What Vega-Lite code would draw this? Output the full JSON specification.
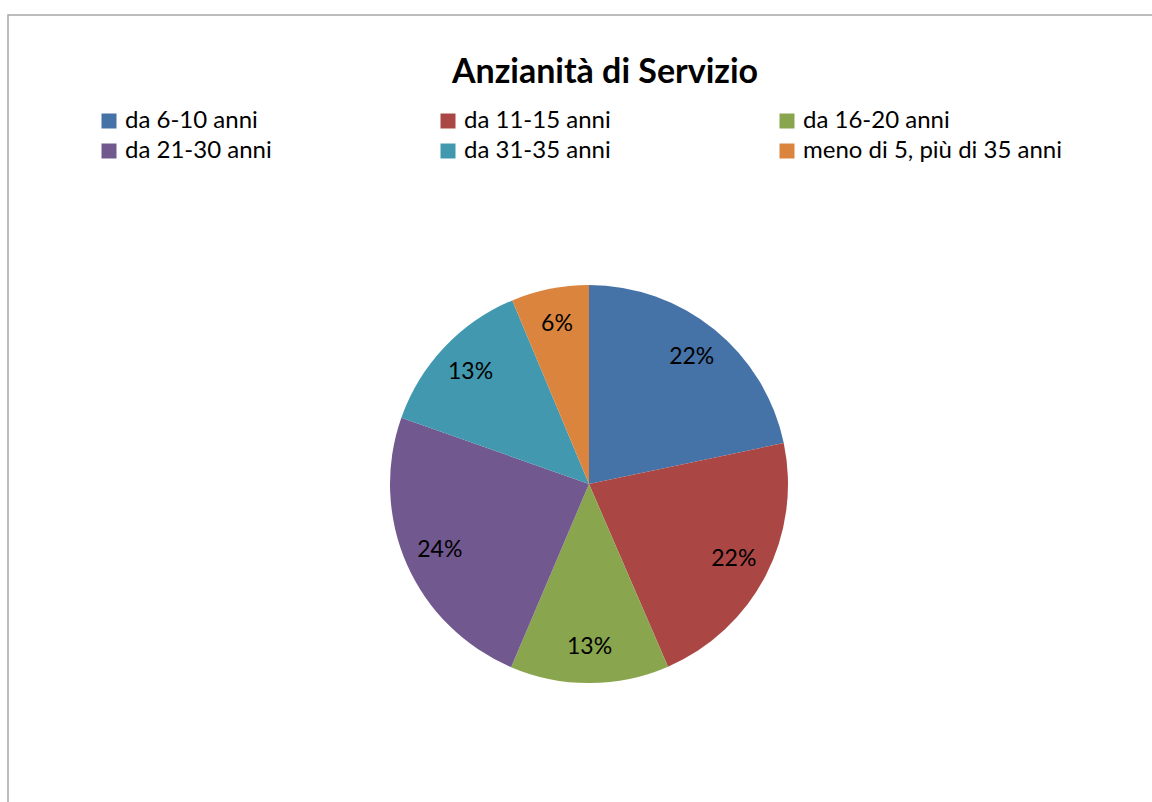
{
  "$schema": "https://vega.github.io/schema/vega-lite/v6.json",
  "autosize": {"type": "none"},
  "padding": {"left": 8, "top": 15, "right": 0, "bottom": 0},
  "width": 1162,
  "height": 938,
  "background": "white",
  "view": {"stroke": "#A6A6A6", "strokeWidth": 1.5},
  "title": {
    "text": "Anzianità di Servizio",
    "font": "Lato",
    "fontSize": 34,
    "fontWeight": "bold",
    "color": "black",
    "anchor": "middle",
    "frame": "group",
    "baseline": "alphabetic",
    "offset": -102,
    "dx": 16
  },
  "data": {
    "values": [
      {"cat": "da 6-10 anni", "k": 1, "v": 0.217},
      {"cat": "da 11-15 anni", "k": 2, "v": 0.218},
      {"cat": "da 16-20 anni", "k": 3, "v": 0.129},
      {"cat": "da 21-30 anni", "k": 4, "v": 0.240},
      {"cat": "da 31-35 anni", "k": 5, "v": 0.133},
      {"cat": "meno di 5, più di 35 anni", "k": 6, "v": 0.063}
    ]
  },
  "encoding": {
    "theta": {"field": "v", "type": "quantitative", "stack": true},
    "order": {"field": "k", "type": "quantitative"}
  },
  "layer": [
    {
      "mark": {"type": "arc", "outerRadius": 199},
      "encoding": {
        "color": {
          "field": "cat",
          "type": "nominal",
          "scale": {
            "domain": ["da 6-10 anni", "da 11-15 anni", "da 16-20 anni", "da 21-30 anni", "da 31-35 anni", "meno di 5, più di 35 anni"],
            "range": ["#4572A7", "#AA4643", "#89A54E", "#71588F", "#4198AF", "#DB843D"]
          },
          "legend": {
            "title": null,
            "orient": "none",
            "legendX": 89,
            "legendY": 94,
            "columns": 3,
            "direction": "horizontal",
            "gridAlign": "all",
            "columnPadding": 52,
            "rowPadding": 6,
            "symbolType": "square",
            "symbolSize": 225,
            "symbolStrokeWidth": 0,
            "labelFont": "Lato",
            "labelFontSize": 24,
            "labelColor": "black",
            "labelOffset": 4,
            "labelLimit": 400
          }
        }
      }
    },
    {
      "mark": {"type": "text", "radius": 163, "font": "Lato", "fontSize": 23, "color": "black"},
      "encoding": {
        "detail": {"field": "cat", "type": "nominal"},
        "text": {"field": "v", "type": "quantitative", "format": ".0%"}
      }
    }
  ]
}
